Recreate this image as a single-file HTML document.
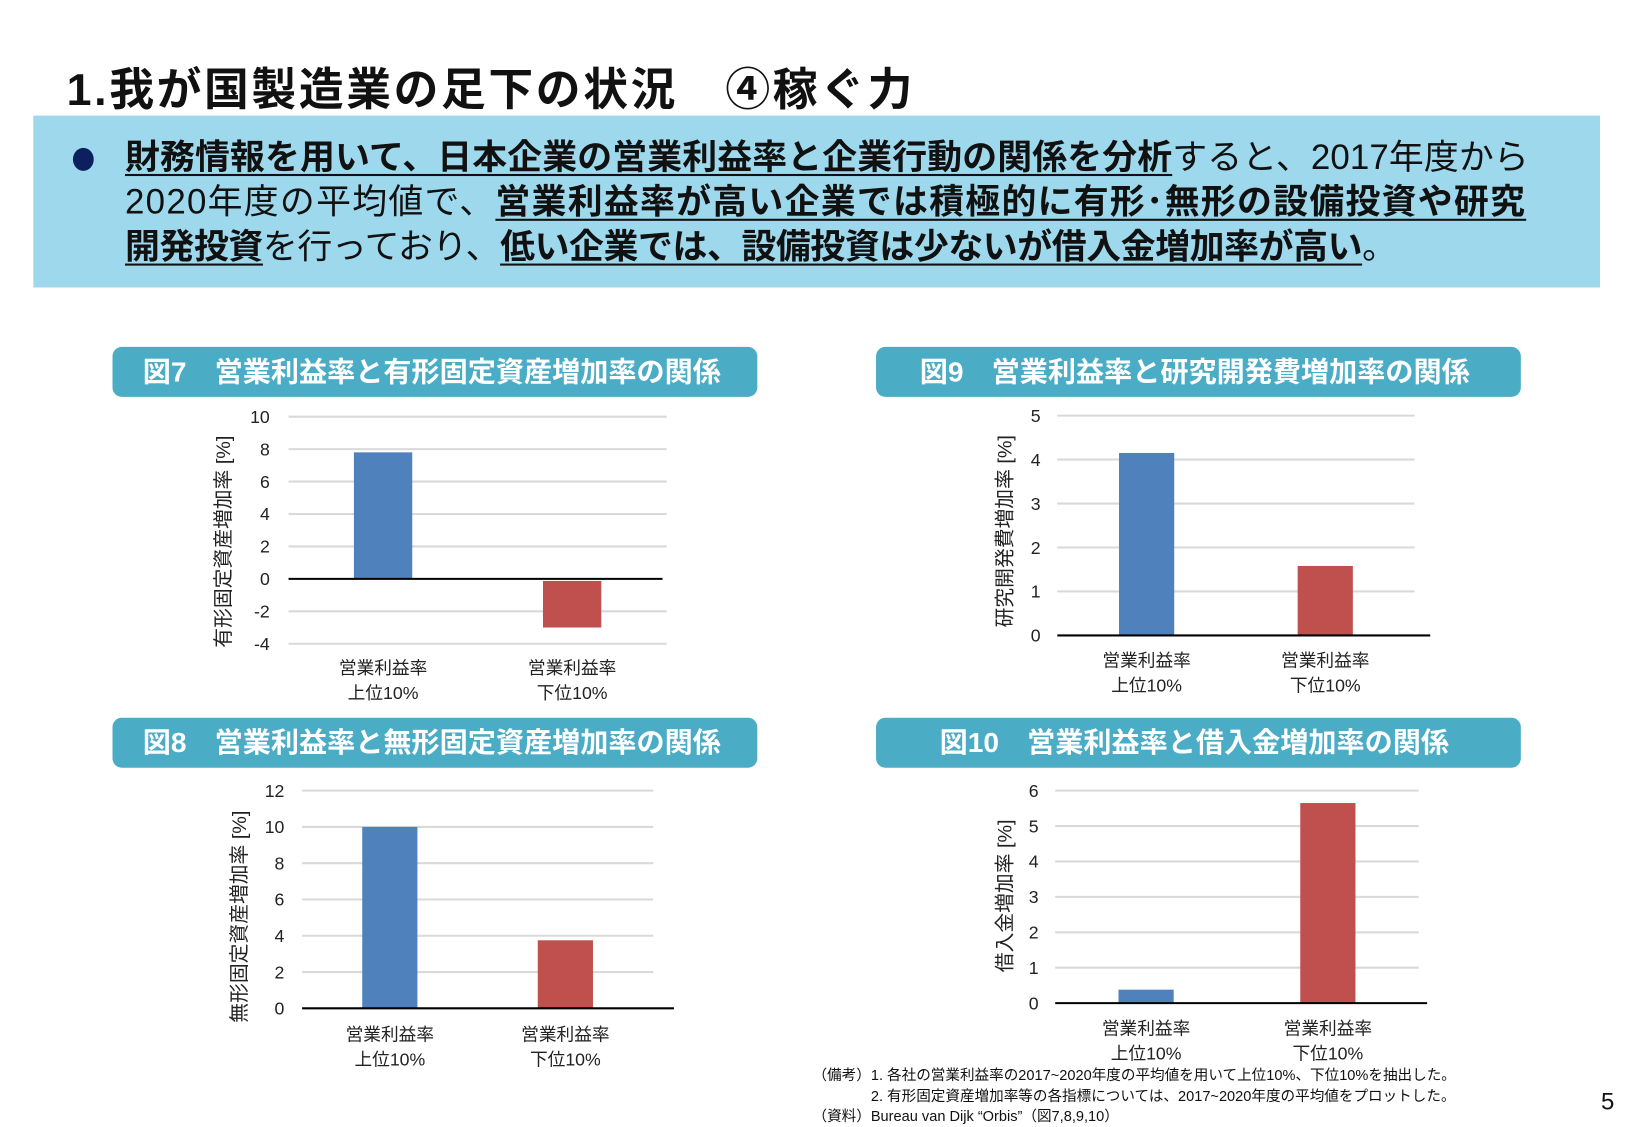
<!DOCTYPE html>
<html><head><meta charset="utf-8">
<style>
html,body{margin:0;padding:0;background:#fff;width:1625px;height:1125px;overflow:hidden}
#wrap{position:absolute;left:0;top:0;width:1560px;height:1080px;transform:scale(1.041667);transform-origin:0 0;font-family:"Liberation Sans","Noto Sans CJK JP",sans-serif}
#title{position:absolute;left:64px;top:52px;font-size:43px;font-weight:bold;color:#111;white-space:nowrap;letter-spacing:2.5px}
#intro{position:absolute;left:32px;top:111px;width:1504px;height:165px;background:#9dd8ec}
#bullet{position:absolute;left:38px;top:31px;width:20px;height:22px;border-radius:50%;background:#0c2060}
.ln{position:absolute;left:88px;font-size:33.5px;color:#111;white-space:nowrap;line-height:40px}
.ln b{text-decoration:underline;text-decoration-thickness:2px;text-underline-offset:5px}
.banner{position:absolute;width:619px;height:48px;background:#4bacc6;border-radius:9px;color:#fff;font-weight:bold;font-size:27px;line-height:48px;white-space:nowrap}
#notes{position:absolute;left:780px;top:1023px;font-size:14px;color:#111;line-height:19.5px;white-space:pre}
#pg{position:absolute;left:1537px;top:1044px;font-size:23px;color:#111}
svg{position:absolute;left:0;top:0}
</style></head><body>
<div id="wrap">
<div id="title">1.我が国製造業の足下の状況　④稼ぐ力</div>
<div id="intro">
<div id="bullet"></div>
<div class="ln" style="top:21px;letter-spacing:0.1px"><b>財務情報を用いて、日本企業の営業利益率と企業行動の関係を分析</b>すると、2017年度から</div>
<div class="ln" style="top:64px;letter-spacing:1.2px">2020年度の平均値で、<b>営業利益率が高い企業では積極的に有形･無形の設備投資や研究</b></div>
<div class="ln" style="top:107px;letter-spacing:-0.4px"><b>開発投資</b>を行っており、<b>低い企業では、設備投資は少ないが借入金増加率が高い</b>。</div>
</div>
<div class="banner" style="left:108px;top:333px"><span style="margin-left:29px">図7　営業利益率と有形固定資産増加率の関係</span></div>
<div class="banner" style="left:841px;top:333px"><span style="margin-left:42px">図9　営業利益率と研究開発費増加率の関係</span></div>
<div class="banner" style="left:108px;top:689px"><span style="margin-left:29px">図8　営業利益率と無形固定資産増加率の関係</span></div>
<div class="banner" style="left:841px;top:689px"><span style="margin-left:61px">図10　営業利益率と借入金増加率の関係</span></div>
<svg id="charts" width="1560" height="1080" viewBox="0 0 1560 1080"></svg>
<div id="notes">（備考）1. 各社の営業利益率の2017~2020年度の平均値を用いて上位10%、下位10%を抽出した。
　　　　2. 有形固定資産増加率等の各指標については、2017~2020年度の平均値をプロットした。
（資料）Bureau van Dijk “Orbis”（図7,8,9,10）</div>
<div id="pg">5</div>
</div>
<script>
const categories = [["営業利益率","上位10%"],["営業利益率","下位10%"]];
const fig7Values = [7.8, -3.0];
const fig7Ticks = [10,8,6,4,2,0,-2,-4];
const fig9Values = [4.15, 1.58];
const fig9Ticks = [5,4,3,2,1,0];
const fig8Values = [10.0, 3.75];
const fig8Ticks = [12,10,8,6,4,2,0];
const fig10Values = [0.38, 5.65];
const fig10Ticks = [6,5,4,3,2,1,0];
const colors = ["#4f81bd","#c0504d"];
const NS = "http://www.w3.org/2000/svg";
const svg = document.getElementById('charts');
function mk(tag, attrs, parent){const e=document.createElementNS(NS,tag);for(const k in attrs)e.setAttribute(k,attrs[k]);(parent||svg).appendChild(e);return e;}
function drawChart(cfg, values, ticks){
  const g = mk('g',{});
  
  
  const max = Math.max(...ticks), min = Math.min(...ticks);
  const y = v => cfg.yTop + (max - v) / (max - min) * (cfg.yBot - cfg.yTop);
  ticks.forEach(t=>{
    if(t!==0){const l=mk('line',{x1:cfg.x0,x2:cfg.x1,y1:y(t),y2:y(t),stroke:'#d9d9d9','stroke-width':2},g);
      
      }
    const tx=mk('text',{x:cfg.tickX,y:y(t)+6,'text-anchor':'end','font-size':17,fill:'#222'},g);
    
    
    tx.textContent=t;
  });
  const n = values.length, bw = cfg.bw, slot=(cfg.x1-cfg.x0)/n;
  values.forEach((v,i)=>{
    const cx = cfg.x0 + slot*(i+0.5);
    const top = Math.min(y(v), y(0)), h = Math.abs(y(v)-y(0));
    const r=mk('rect',{x:cx-bw/2,y:top+(v<0?2:0),width:bw,height:Math.max(h-(v<0?2:0),0),fill:colors[i]},g);
    
    
    categories[i].forEach((s,j)=>{
      const t=mk('text',{x:cx,y:cfg.catY+j*24,'text-anchor':'middle','font-size':17,fill:'#222'},g);
      
      
      t.textContent=s;
    });
  });
  const ax=mk('line',{x1:cfg.x0,x2:cfg.axEnd,y1:y(0),y2:y(0),stroke:'#000','stroke-width':2},g);
  
  
  const at=mk('text',{x:0,y:0,'text-anchor':'middle','font-size':19,fill:'#222',transform:`translate(${cfg.titleX},${cfg.titleY}) rotate(-90)`},g);
  
  
  at.textContent=cfg.title;
}
drawChart({name:'fig7-chart',x0:277,x1:640,axEnd:636,yTop:400,yBot:618,bw:56,tickX:259,catY:647,titleX:221,titleY:520,title:'有形固定資産増加率 [%]'},fig7Values,fig7Ticks);
drawChart({name:'fig9-chart',x0:1015,x1:1358,axEnd:1373,yTop:399,yBot:610,bw:53,tickX:999,catY:640,titleX:971,titleY:510,title:'研究開発費増加率 [%]'},fig9Values,fig9Ticks);
drawChart({name:'fig8-chart',x0:290,x1:627,axEnd:647,yTop:759,yBot:968,bw:53,tickX:273,catY:999,titleX:236,titleY:880,title:'無形固定資産増加率 [%]'},fig8Values,fig8Ticks);
drawChart({name:'fig10-chart',x0:1013,x1:1362,axEnd:1370,yTop:759,yBot:963,bw:53,tickX:997,catY:993,titleX:971,titleY:860,title:'借入金増加率 [%]'},fig10Values,fig10Ticks);
</script>
</body></html>
